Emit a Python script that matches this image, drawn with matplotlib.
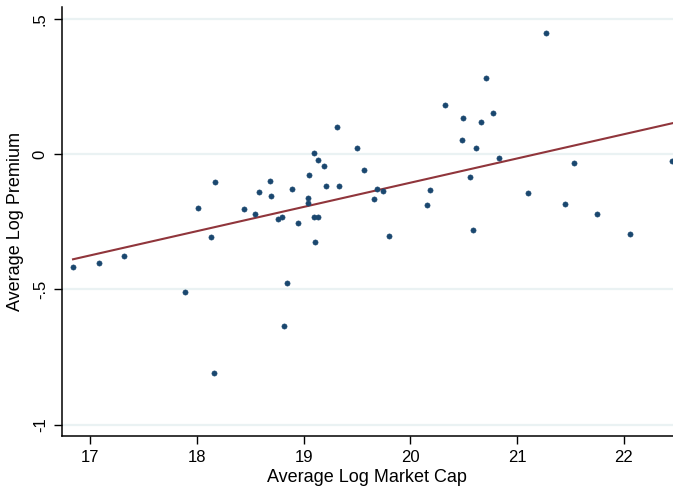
import numpy as np
import matplotlib
matplotlib.use("Agg")
import matplotlib.pyplot as plt

plt.rcParams["font.family"] = ["Liberation Sans", "DejaVu Sans"]

# average log market cap / average log premium
log_cap = [16.841, 17.081, 17.316, 17.887, 18.008, 18.130, 18.173, 18.164,
           18.442, 18.542, 18.582, 18.688, 18.692, 18.760, 18.801, 18.812,
           18.847, 18.894, 18.950, 19.041, 19.037, 19.049, 19.095, 19.132,
           19.194, 19.213, 19.102, 19.138, 19.111, 19.316, 19.333, 19.500,
           19.568, 19.687, 19.746, 19.662, 19.802, 20.160, 20.188, 20.327,
           20.495, 20.658, 20.706, 20.778, 20.483, 20.616, 20.830, 20.561,
           20.583, 21.273, 21.529, 21.101, 21.445, 21.749, 22.058, 22.449]
log_prem = [-0.4175, -0.4027, -0.3757, -0.5098, -0.2006, -0.3077, -0.1053, -0.808,
            -0.2043, -0.2228, -0.1404, -0.1009, -0.1544, -0.2394, -0.2338, -0.6343,
            -0.4754, -0.1282, -0.2549, -0.1614, -0.1829, -0.0783, 0.0026, -0.0211,
            -0.0451, -0.1175, -0.2346, -0.2320, -0.3255, 0.0997, -0.1193, 0.0222,
            -0.0580, -0.1300, -0.1371, -0.1666, -0.3040, -0.1895, -0.1330, 0.1810,
            0.1341, 0.1182, 0.2797, 0.1526, 0.0517, 0.0233, -0.0148, -0.0850,
            -0.2819, 0.4488, -0.0344, -0.1452, -0.1836, -0.2235, -0.2966, -0.0270]

x_ticks = [17, 18, 19, 20, 21, 22]
y_ticks = [-1, -0.5, 0, 0.5]
y_tick_labels = ["-1", "-.5", "0", ".5"]

x = np.array(log_cap)
y = np.array(log_prem)

# linear fit over the data range
b, a = np.polyfit(x, y, 1)
fx = np.array([x.min(), 22.6])
fy = a + b * fx

fig = plt.figure(figsize=(6.73, 4.87), dpi=100)
ax = fig.add_axes([0.0917, 0.1047, 0.9083, 0.8809])

for t in y_ticks:
    ax.axhline(t, color="#eaf2f3", lw=1.6, zorder=0)

ax.scatter(x, y, s=14, color="#1a476f", edgecolors="#1a476f", linewidths=0.4, zorder=3)
ax.plot(fx, fy, color="#90353b", lw=1.5, zorder=2)

ax.set_xlim(16.735, 22.459)
ax.set_ylim(-1.042, 0.543)
ax.set_xticks(x_ticks)
ax.set_yticks(y_ticks)
ax.set_yticklabels(y_tick_labels, rotation=90, va="center")
ax.tick_params(axis="both", labelsize=12, length=6, width=1, direction="out", pad=4)

for s in ["top", "right"]:
    ax.spines[s].set_visible(False)
for s in ["left", "bottom"]:
    ax.spines[s].set_linewidth(1.1)

ax.set_xlabel("Average Log Market Cap", fontsize=13, labelpad=3)
ax.set_ylabel("Average Log Premium", fontsize=13, labelpad=6)

fig.savefig("out.png", dpi=100)
